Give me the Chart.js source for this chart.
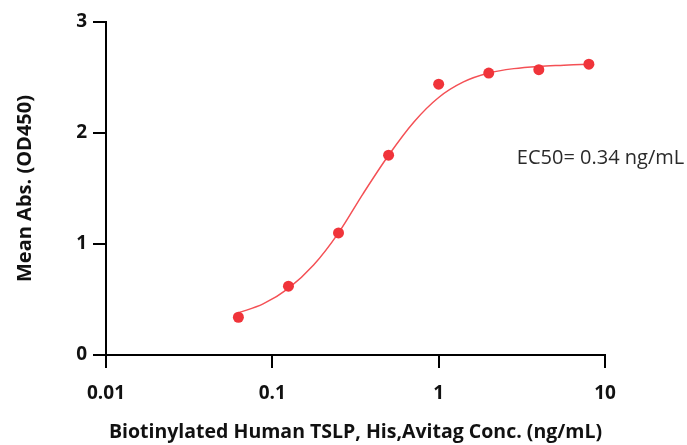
<!DOCTYPE html>
<html>
<head>
<meta charset="utf-8">
<script src="https://cdn.jsdelivr.net/npm/chart.js@4"></script>
<style>
  html, body { margin: 0; padding: 0; background: #fff; }
  #wrap { width: 687px; height: 445px; }
</style>
</head>
<body>
<div id="wrap"><canvas id="chart" width="687" height="445"></canvas></div>
<script>
// measured points (ng/mL, OD450)
const conc = [0.0625, 0.125, 0.25, 0.5, 1, 2, 4, 8];
const od450 = [0.34, 0.62, 1.10, 1.80, 2.44, 2.54, 2.57, 2.62];

// fitted curve
const fitConc = [0.0625, 0.088, 0.125, 0.177, 0.25, 0.35, 0.5, 0.71, 1, 1.41, 2, 2.83, 4, 5.66, 8];
const fitOd = [0.38, 0.46, 0.60, 0.81, 1.10, 1.45, 1.80, 2.10, 2.32, 2.46, 2.54, 2.58, 2.60, 2.61, 2.62];

const xTicks = [0.01, 0.1, 1, 10];
const yTicks = [0, 1, 2, 3];

const ec50Text = 'EC50= 0.34 ng/mL';

const labelFont = "'Open Sans', sans-serif";

const ec50Label = {
    id: 'ec50Label',
    afterDatasetsDraw(chart) {
        const ctx = chart.ctx;
        const x = chart.scales.x.getPixelForValue(2.95);
        const y = chart.scales.y.getPixelForValue(1.77);
        ctx.save();
        ctx.font = '20px ' + labelFont;
        ctx.fillStyle = '#2a2a2a';
        ctx.textAlign = 'left';
        ctx.textBaseline = 'middle';
        ctx.fillText(ec50Text, x, y);
        ctx.restore();
    }
};

const chart = new Chart(document.getElementById('chart'), {
    type: 'scatter',
    data: {
        datasets: [{
            data: fitConc.map((c, i) => ({ x: c, y: fitOd[i] })),
            showLine: true,
            borderColor: 'rgb(244,80,85)',
            borderWidth: 1.5,
            pointRadius: 0,
            cubicInterpolationMode: 'monotone',
            order: 2
        }, {
            data: conc.map((c, i) => ({ x: c, y: od450[i] })),
            backgroundColor: 'rgb(240,52,58)',
            borderColor: 'rgb(240,52,58)',
            pointRadius: 5.5,
            borderWidth: 0,
            order: 1
        }]
    },
    options: {
        responsive: false,
        animation: false,
        layout: { padding: { top: 22, right: 82, left: 0, bottom: 0 } },
        scales: {
            x: {
                type: 'logarithmic',
                min: 0.01,
                max: 10,
                afterBuildTicks: s => { s.ticks = xTicks.map(v => ({ value: v })); },
                afterFit: s => { s.height = 90; },
                ticks: {
                    color: '#111',
                    font: { family: labelFont, size: 19, weight: 'bold' },
                    padding: 14,
                    maxRotation: 0,
                    callback: v => String(v)
                },
                grid: { drawOnChartArea: false, tickLength: 13, lineWidth: 2, color: '#000' },
                border: { width: 2, color: '#000' },
                title: {
                    display: true,
                    text: 'Biotinylated Human TSLP, His,Avitag Conc. (ng/mL)',
                    color: '#111',
                    font: { family: labelFont, size: 19.5, weight: 'bold' },
                    padding: { top: 0, bottom: 1 }
                }
            },
            y: {
                min: 0,
                max: 3,
                afterBuildTicks: s => { s.ticks = yTicks.map(v => ({ value: v })); },
                afterFit: s => { s.width = 106; },
                ticks: {
                    color: '#111',
                    font: { family: labelFont, size: 19, weight: 'bold' },
                    padding: 6
                },
                grid: { drawOnChartArea: false, tickLength: 13, lineWidth: 2, color: '#000' },
                border: { width: 2, color: '#000' },
                title: {
                    display: true,
                    text: 'Mean Abs. (OD450)',
                    color: '#111',
                    font: { family: labelFont, size: 20, weight: 'bold' },
                    padding: { top: 13, bottom: 0 }
                }
            }
        },
        plugins: {
            legend: { display: false },
            tooltip: { enabled: false }
        }
    },
    plugins: [ec50Label]
});
</script>
</body>
</html>
